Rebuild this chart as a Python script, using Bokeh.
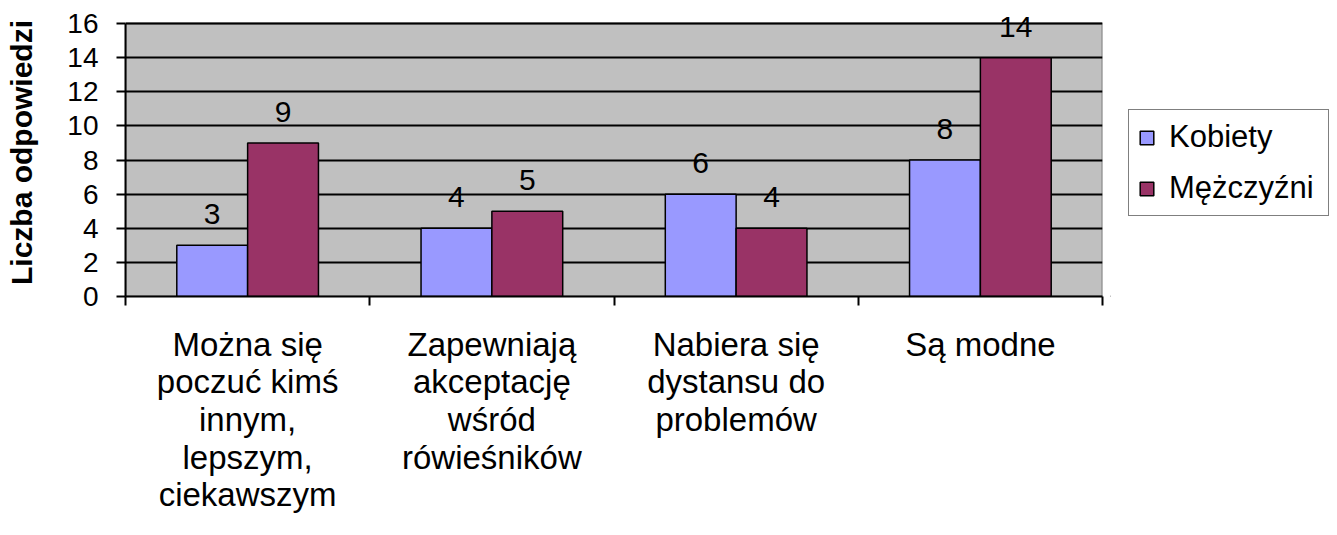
from bokeh.plotting import figure
from bokeh.layouts import row
from bokeh.models import (Range1d, LinearAxis, FixedTicker, ColumnDataSource, LabelSet,
                          Legend, LegendItem)
from bokeh.transform import dodge
from bokeh.core.properties import value
from bokeh.embed import file_html
from bokeh.resources import INLINE

categories = ["Można się poczuć kimś innym, lepszym, ciekawszym",
              "Zapewniają akceptację wśród rówieśników",
              "Nabiera się dystansu do problemów",
              "Są modne"]
tick_labels = ["Można się\npoczuć kimś\ninnym,\nlepszym,\nciekawszym",
               "Zapewniają\nakceptację\nwśród\nrówieśników",
               "Nabiera się\ndystansu do\nproblemów",
               "Są modne"]
series_names = ["Kobiety", "Mężczyźni"]
kobiety = [3, 4, 6, 8]
mezczyzni = [9, 5, 4, 14]
y_ticks = [0, 2, 4, 6, 8, 10, 12, 14, 16]
y_title = "Liczba odpowiedzi"

FONT = "Liberation Sans"
c_k = "#9999FF"
c_m = "#993366"

n = len(categories)
centers = [i + 0.5 for i in range(n)]
src = ColumnDataSource(dict(x=centers, k=kobiety, m=mezczyzni,
                            kl=[str(v) for v in kobiety], ml=[str(v) for v in mezczyzni]))

# frame reaches a little above the top tick so the value labels are not clipped
y_pad = 0.88
p = figure(width=1110, height=535, x_range=Range1d(0, n),
           y_range=Range1d(y_ticks[0], y_ticks[-1] + y_pad),
           output_backend="svg", toolbar_location=None, x_axis_location=None,
           min_border_left=125, min_border_right=8, min_border_top=8, min_border_bottom=239)
p.background_fill_color = "white"
p.border_fill_color = "white"
p.outline_line_color = None
p.xgrid.visible = False
p.ygrid.ticker = FixedTicker(ticks=y_ticks)
p.ygrid.grid_line_color = "black"
p.ygrid.grid_line_width = 2

# grey plot area bounded by the value axis range
p.quad(left=0, right=n, bottom=y_ticks[0], top=y_ticks[-1], fill_color="#C0C0C0",
       line_color="#808080", line_width=2, level="image")

ya = p.yaxis[0]
ya.ticker = FixedTicker(ticks=y_ticks)
ya.bounds = (y_ticks[0], y_ticks[-1])
ya.axis_label = y_title
ya.axis_label_text_font = FONT
ya.axis_label_text_font_style = "bold"
ya.axis_label_text_font_size = "30px"
ya.axis_label_text_color = "black"
ya.axis_label_standoff = 26
ya.major_label_text_font = FONT
ya.major_label_text_font_size = "28px"
ya.major_label_text_color = "black"
ya.major_label_standoff = 18
ya.major_tick_out = 9
ya.major_tick_in = 0
ya.major_tick_line_width = 2
ya.minor_tick_line_color = None
ya.axis_line_width = 2
ya.axis_line_color = "black"

# category axis: labels at category centres, tick marks at category boundaries
label_axis = LinearAxis(ticker=FixedTicker(ticks=centers, minor_ticks=list(range(n + 1))),
                        axis_line_color="black", axis_line_width=2,
                        major_tick_line_color=None, major_tick_out=9, major_tick_in=0,
                        minor_tick_line_color="black", minor_tick_line_width=2,
                        minor_tick_out=9, minor_tick_in=0,
                        major_label_overrides={c: t for c, t in zip(centers, tick_labels)},
                        major_label_text_font=FONT, major_label_text_font_size="33px",
                        major_label_text_color="black", major_label_text_line_height=1.02,
                        major_label_standoff=20)
p.add_layout(label_axis, "below")

w = 0.29
r1 = p.vbar(x=dodge("x", -w / 2), top="k", width=w, source=src,
            fill_color=c_k, line_color="black", line_width=1.5)
r2 = p.vbar(x=dodge("x", w / 2), top="m", width=w, source=src,
            fill_color=c_m, line_color="black", line_width=1.5)

for col, lab, off in (("k", "kl", -w / 2), ("m", "ml", w / 2)):
    p.add_layout(LabelSet(x=dodge("x", off), y=col, text=lab, source=src,
                          text_align="center", text_baseline="alphabetic", y_offset=21,
                          text_font=value(FONT), text_font_size="30px", text_color="black"))

# legend panel to the right of the plot (its frame is aligned with the main frame)
pl = figure(width=227, height=535, x_range=Range1d(0, 1), y_range=Range1d(0, 1),
            output_backend="svg", toolbar_location=None, x_axis_location=None,
            y_axis_location=None, min_border_left=0, min_border_top=8,
            min_border_right=0, min_border_bottom=239, outline_line_color=None)
pl.xgrid.visible = False
pl.ygrid.visible = False
swatch = ColumnDataSource(dict(x=[-10], top=[0]))  # kept outside the visible range
l1 = pl.vbar(x="x", top="top", width=0.1, source=swatch, fill_color=c_k, line_color="black", line_width=1.5)
l2 = pl.vbar(x="x", top="top", width=0.1, source=swatch, fill_color=c_m, line_color="black", line_width=1.5)
legend = Legend(items=[LegendItem(label=series_names[0], renderers=[l1]),
                       LegendItem(label=series_names[1], renderers=[l2])],
                location=(18, 80), border_line_color="black", border_line_width=1.5,
                background_fill_color="white", background_fill_alpha=1.0,
                label_text_font=FONT, label_text_font_size="31px", label_text_color="black",
                glyph_width=17, glyph_height=17, label_standoff=14, label_width=150,
                spacing=15, padding=9, margin=0)
pl.add_layout(legend)

layout = row(p, pl)
open("out.html", "w").write(file_html(layout, INLINE))
